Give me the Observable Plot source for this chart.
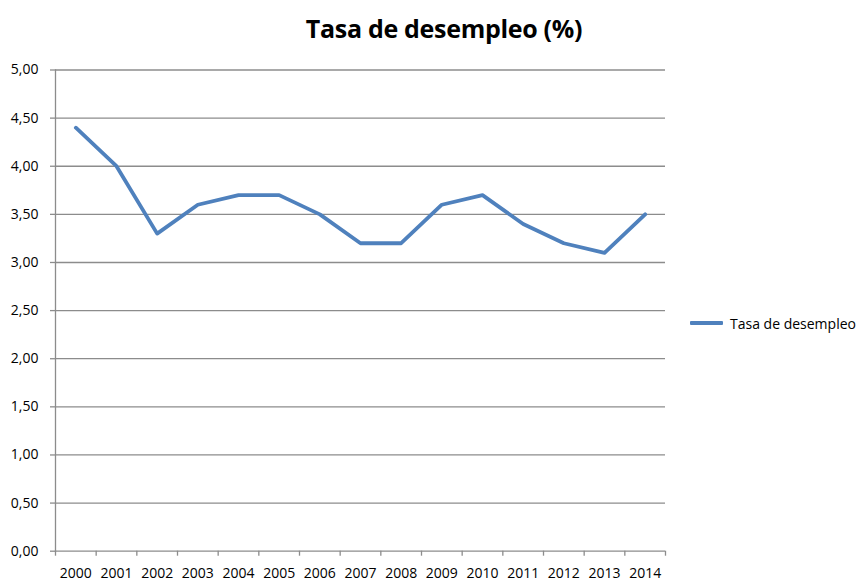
<!DOCTYPE html>
<html>
<head>
<meta charset="utf-8">
<script src="https://cdn.jsdelivr.net/npm/d3@7"></script>
<script src="https://cdn.jsdelivr.net/npm/@observablehq/plot@0.6"></script>
<style>
  html, body { margin: 0; padding: 0; background: #fff; }
  #wrap { position: relative; width: 859px; height: 583px; overflow: hidden; font-family: "Open Sans", sans-serif; }
  #title { position: absolute; left: 0; width: 888px; top: 10px; text-align: center; font-weight: bold; font-size: 25px; color: #000; line-height: 36px; letter-spacing: -0.3px; }
  #legend { position: absolute; left: 690px; top: 312px; height: 22px; display: flex; align-items: center; font-size: 14px; color: #000; white-space: nowrap; }
  #legend .sw { width: 33px; height: 3.5px; background: #4F81BD; margin-right: 7px; border-radius: 1px; }
  #chart { position: absolute; left: 0; top: 0; }
</style>
</head>
<body>
<div id="wrap">
  <div id="chart"></div>
  <div id="title">Tasa de desempleo (%)</div>
  <div id="legend"><span class="sw"></span><span>Tasa de desempleo</span></div>
</div>
<script>
const years = ["2000","2001","2002","2003","2004","2005","2006","2007","2008","2009","2010","2011","2012","2013","2014"];
const values = [4.4, 4.0, 3.3, 3.6, 3.7, 3.7, 3.5, 3.2, 3.2, 3.6, 3.7, 3.4, 3.2, 3.1, 3.5];
const yTicks = [0, 0.5, 1, 1.5, 2, 2.5, 3, 3.5, 4, 4.5, 5];

const data = years.map((y, i) => ({i, year: y, value: values[i]}));
const idx = years.map((d, i) => i);
const bounds = idx.map(i => i - 0.5).concat([years.length - 0.5]);
const fmt = d3.format(".2f");
const gray = "#8c8c8c";

const chart = Plot.plot({
  width: 859,
  height: 583,
  marginLeft: 55,
  marginRight: 194,
  marginTop: 69.5,
  marginBottom: 32.3,
  style: {fontFamily: "Open Sans, sans-serif", fontSize: "14px", color: "#000", background: "transparent", overflow: "visible"},
  x: {type: "linear", domain: [-0.5, years.length - 0.5]},
  y: {domain: [0, 5]},
  marks: [
    Plot.gridY(yTicks, {stroke: gray, strokeOpacity: 1, strokeWidth: 1.3}),
    Plot.frame({anchor: "left", stroke: gray, strokeWidth: 1.3}),
    Plot.axisY(yTicks, {tickSize: 5, tickPadding: 12, stroke: gray, strokeWidth: 1.3, tickFormat: d => fmt(d).replace(".", ","), label: null, fill: "#000"}),
    Plot.axisX(bounds, {tickSize: 5, stroke: gray, strokeWidth: 1.3, text: null, label: null}),
    Plot.axisX(idx, {tickSize: 0, tickPadding: 17, tickFormat: i => years[i], label: null, fill: "#000"}),
    Plot.line(data, {x: "i", y: "value", stroke: "#4F81BD", strokeWidth: 3.8, strokeLinejoin: "round", strokeLinecap: "round"})
  ]
});
document.getElementById("chart").appendChild(chart);
</script>
</body>
</html>
